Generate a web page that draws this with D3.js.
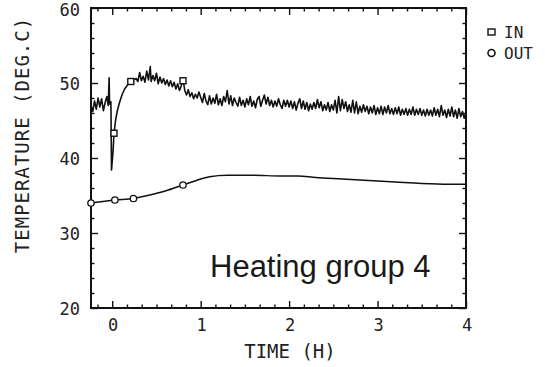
<!DOCTYPE html>
<html><head><meta charset="utf-8">
<script src="https://cdn.jsdelivr.net/npm/d3@7"></script>
<style>
html,body{margin:0;padding:0;background:#fff;}
svg{display:block;}
</style></head>
<body>
<svg id="chart" width="545" height="367"></svg>
<script>
// ---- data ----
const xTickValues = [0, 1, 2, 3, 4];
const yTickValues = [20, 30, 40, 50, 60];

const inTime = [-0.24,-0.22,-0.20,-0.18,-0.16,-0.14,-0.12,-0.10,-0.08,-0.06,-0.045,-0.035,-0.03,-0.015,-0.008,
0.01,0.02,0.04,0.06,0.08,0.11,0.14,0.17,0.21,0.24,0.27,0.29,0.31,0.33,0.35,0.37,0.39,0.41,0.43,0.44,0.46,0.48,0.50,
0.52,0.54,0.56,0.58,0.60,0.62,0.64,0.66,0.68,0.70,0.72,0.74,0.76,0.78,0.80,0.82,0.84,0.86,0.88,0.90,0.92,0.94,0.96,0.98,
1.00,1.02,1.04,1.06,1.08,1.10,1.12,1.14,1.16,1.18,1.20,1.22,1.24,1.26,1.28,1.30,1.32,1.34,1.36,1.38,1.40,1.42,1.44,1.46,1.48,
1.50,1.52,1.54,1.56,1.58,1.60,1.62,1.64,1.66,1.68,1.70,1.72,1.74,1.76,1.78,1.80,1.82,1.84,1.86,1.88,1.90,1.92,1.94,1.96,1.98,
2.00,2.02,2.04,2.06,2.08,2.10,2.12,2.14,2.16,2.18,2.20,2.22,2.24,2.26,2.28,2.30,2.32,2.34,2.36,2.38,2.40,2.42,2.44,2.46,2.48,
2.50,2.52,2.54,2.56,2.58,2.60,2.62,2.64,2.66,2.68,2.70,2.72,2.74,2.76,2.78,2.80,2.82,2.84,2.86,2.88,2.90,2.92,2.94,2.96,2.98,
3.00,3.02,3.04,3.06,3.08,3.10,3.12,3.14,3.16,3.18,3.20,3.22,3.24,3.26,3.28,3.30,3.32,3.34,3.36,3.38,3.40,3.42,3.44,3.46,3.48,
3.50,3.52,3.54,3.56,3.58,3.60,3.62,3.64,3.66,3.68,3.70,3.72,3.74,3.76,3.78,3.80,3.82,3.84,3.86,3.88,3.90,3.92,3.94,3.96,3.98,4.00];

const inTemp = [47.0,46.2,47.6,46.5,48.0,46.8,47.9,46.3,47.4,48.2,47.0,50.7,47.2,47.5,38.4,
41.0,43.3,45.2,46.4,47.3,48.4,49.2,49.7,50.2,50.4,50.6,50.2,51.4,50.3,50.9,50.1,51.6,50.4,52.2,50.2,51.0,50.3,51.3,
49.9,50.8,50.0,50.6,49.8,50.4,49.6,50.3,49.5,50.1,49.2,49.9,49.0,49.6,50.6,49.0,48.4,49.1,48.2,48.7,47.9,48.5,48.0,48.8,
48.1,47.4,48.6,47.6,47.1,48.3,47.2,48.0,47.3,48.5,47.1,47.9,47.0,48.2,47.5,49.0,47.2,48.3,47.0,48.0,47.4,46.9,48.1,47.0,47.7,
46.8,47.9,47.1,48.2,46.9,47.6,46.7,47.8,48.2,46.9,47.7,48.4,47.2,48.1,47.0,47.7,46.8,47.6,46.9,47.9,47.1,46.6,47.7,46.9,47.7,
46.8,47.6,46.6,47.5,46.4,47.3,47.9,46.6,47.6,46.5,47.4,46.3,47.2,46.5,47.4,46.6,47.8,46.7,47.5,46.3,47.1,46.4,47.4,46.2,47.1,
46.4,47.7,46.0,48.2,46.3,47.8,46.6,47.5,46.2,47.1,46.1,47.7,46.0,47.5,45.9,46.9,46.1,47.1,46.2,46.9,45.9,46.8,46.0,47.0,45.8,
46.7,45.9,46.9,45.8,46.8,46.0,47.0,45.9,46.6,45.8,46.7,45.9,46.8,45.7,46.5,45.8,46.6,45.7,46.5,45.8,46.8,45.7,46.5,45.8,46.6,
45.7,46.4,45.6,46.5,45.7,46.4,45.6,46.7,45.7,46.5,45.5,47.0,45.7,46.4,45.4,46.5,45.6,46.8,45.5,46.4,45.3,46.6,45.5,46.2,45.3,46.2];

const inMarkTime = [0.02, 0.21, 0.80];
const inMarkTemp = [43.3, 50.2, 50.3];

const outTime = [-0.24, 0.03, 0.24, 0.40, 0.60, 0.80, 0.95, 1.10, 1.30, 1.60, 1.90, 2.10, 2.30, 2.60, 2.90, 3.20, 3.50, 3.80, 4.00];
const outTemp = [34.0, 34.4, 34.6, 35.0, 35.6, 36.4, 37.0, 37.5, 37.7, 37.7, 37.6, 37.6, 37.4, 37.2, 37.0, 36.8, 36.6, 36.5, 36.5];
const outMarkTime = [-0.24, 0.03, 0.24, 0.80];
const outMarkTemp = [34.0, 34.4, 34.6, 36.4];

const legendLabels = ["IN", "OUT"];
const annotation = "Heating group 4";
const xTitle = "TIME (H)";
const yTitle = "TEMPERATURE (DEG.C)";

// ---- layout ----
const L = 91, R = 466, T = 8, B = 308;
const svg = d3.select("#chart");
const x = d3.scaleLinear().domain([-0.24, 4]).range([L, R]);
const y = d3.scaleLinear().domain([20, 60]).range([B, T]);
const monoFont = "'DejaVu Sans Mono', 'Liberation Mono', monospace";

const minorX = d3.range(-1, 25).map(i => i / 6).filter(v => v > -0.24 && v < 4 && Math.abs(v - Math.round(v)) > 1e-6);
const minorY = d3.range(20, 61, 2).filter(v => v % 10 !== 0);

function addAxis(axisGen, tx, ty, vals, size) {
  const g = svg.append("g").attr("transform", `translate(${tx},${ty})`)
    .call(axisGen.tickValues(vals).tickSize(size).tickFormat(""));
  g.select(".domain").remove();
  g.selectAll(".tick line").attr("stroke", "#111").attr("stroke-width", 1.4);
  return g;
}
addAxis(d3.axisTop(x), 0, B, xTickValues, 7);
addAxis(d3.axisTop(x), 0, B, minorX, 3.5);
addAxis(d3.axisBottom(x), 0, T, xTickValues, 7);
addAxis(d3.axisBottom(x), 0, T, minorX, 3.5);
addAxis(d3.axisRight(y), L, 0, yTickValues, 7);
addAxis(d3.axisRight(y), L, 0, minorY, 3.5);
addAxis(d3.axisLeft(y), R, 0, yTickValues, 7);
addAxis(d3.axisLeft(y), R, 0, minorY, 3.5);

svg.append("rect").attr("x", L).attr("y", T).attr("width", R - L).attr("height", B - T)
  .attr("fill", "none").attr("stroke", "#111").attr("stroke-width", 2);

// tick labels
svg.append("g").selectAll("text").data(yTickValues).join("text")
  .attr("x", L - 11).attr("y", d => Math.max(y(d) + 1, 10)).attr("dy", "0.36em")
  .attr("text-anchor", "end").attr("font-family", monoFont).attr("font-size", 17).attr("fill", "#222")
  .text(d => d);
svg.append("g").selectAll("text").data(xTickValues).join("text")
  .attr("x", d => x(d) + 1).attr("y", B + 23)
  .attr("text-anchor", "middle").attr("font-family", monoFont).attr("font-size", 17).attr("fill", "#222")
  .text(d => d);

// axis titles
svg.append("text").attr("x", 290).attr("y", 358).attr("text-anchor", "middle")
  .attr("font-family", monoFont).attr("font-size", 19).attr("fill", "#222").text(xTitle);
svg.append("text").attr("transform", "translate(29,135) rotate(-90)").attr("text-anchor", "middle")
  .attr("font-family", monoFont).attr("font-size", 19).attr("letter-spacing", 1).attr("fill", "#222").text(yTitle);

// lines
const inData = inTime.map((t, i) => [t, inTemp[i]]);
const outData = outTime.map((t, i) => [t, outTemp[i]]);
svg.append("path").datum(inData)
  .attr("d", d3.line().x(d => x(d[0])).y(d => y(d[1])))
  .attr("fill", "none").attr("stroke", "#111").attr("stroke-width", 1.6).attr("stroke-linejoin", "round");
svg.append("path").datum(outData)
  .attr("d", d3.line().curve(d3.curveMonotoneX).x(d => x(d[0])).y(d => y(d[1])))
  .attr("fill", "none").attr("stroke", "#111").attr("stroke-width", 1.5);

// markers
svg.append("g").selectAll("rect").data(inMarkTime.map((t, i) => [t, inMarkTemp[i]])).join("rect")
  .attr("x", d => x(d[0]) - 3).attr("y", d => y(d[1]) - 3).attr("width", 6).attr("height", 6)
  .attr("fill", "#fff").attr("stroke", "#111").attr("stroke-width", 1.4);
svg.append("g").selectAll("circle").data(outMarkTime.map((t, i) => [t, outMarkTemp[i]])).join("circle")
  .attr("cx", d => x(d[0])).attr("cy", d => y(d[1])).attr("r", 3.2)
  .attr("fill", "#fff").attr("stroke", "#111").attr("stroke-width", 1.3);

// legend
const lg = svg.append("g");
lg.append("rect").attr("x", 488).attr("y", 29).attr("width", 7).attr("height", 6)
  .attr("fill", "#fff").attr("stroke", "#111").attr("stroke-width", 1.4);
lg.append("circle").attr("cx", 491.5).attr("cy", 53).attr("r", 3.5)
  .attr("fill", "#fff").attr("stroke", "#111").attr("stroke-width", 1.6);
lg.selectAll("text").data(legendLabels).join("text")
  .attr("x", 504).attr("y", (d, i) => 32 + i * 21).attr("dy", "0.36em")
  .attr("font-family", monoFont).attr("font-size", 16).attr("fill", "#222").text(d => d);

// annotation
svg.append("text").attr("x", 210).attr("y", 277).attr("font-family", "'Liberation Sans', Arial, sans-serif")
  .attr("font-size", 31).attr("fill", "#1a1a1a").text(annotation);
</script>
</body></html>
